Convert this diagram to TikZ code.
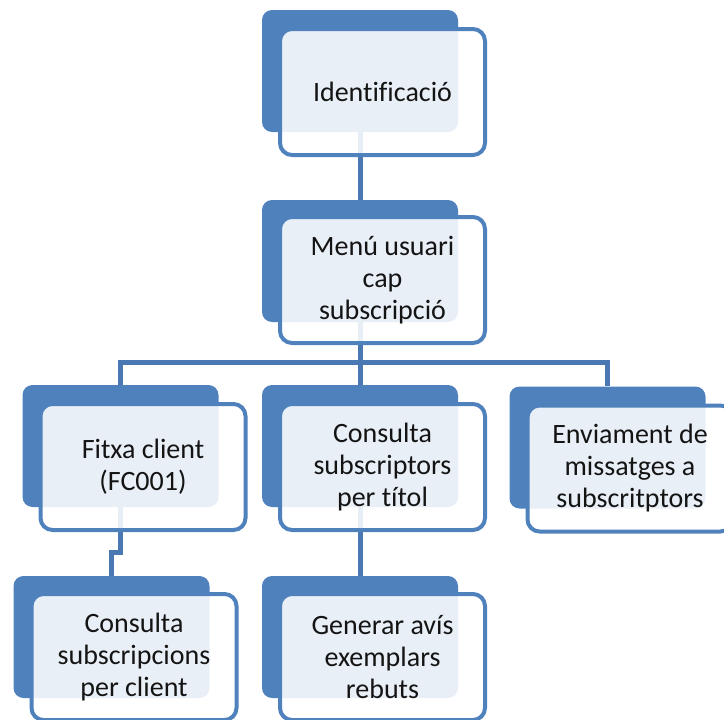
\documentclass[tikz,border=0pt]{standalone}
\usepackage{fontspec}
\setmainfont{Carlito}[Ligatures=NoCommon]
\usepackage{xcolor}
\usepackage{tikz}

\definecolor{boxblue}{HTML}{4F81BD}
\definecolor{linkblue}{HTML}{4A78B2}
\definecolor{txtgray}{HTML}{141414}

\begin{document}
\begin{tikzpicture}[
  x=1pt, y=-1pt,
  font=\fontsize{28}{32}\selectfont,
  back/.style={fill=boxblue, rounded corners=10pt, minimum width=196pt, minimum height=122pt, inner sep=0pt},
  front/.style={draw=boxblue, line width=4pt, fill=white, fill opacity=0.88, text opacity=1, text=txtgray,
                rounded corners=12pt, align=center, minimum width=205pt, minimum height=126pt, inner sep=0pt},
  link/.style={draw=linkblue, line width=5pt},
]
\clip (0,0) rectangle (724,720);
% back plates
\node[back] (ident) at (360,71) {};
\node[back] (menu) at (360,261) {};
\node[back] (fitxa) at (120.5,446) {};
\node[back] (consS) at (360,446) {};
\node[back] (envia) at (607.5,447.5) {};
\node[back] (consC) at (111.5,637) {};
\node[back] (gener) at (360,637) {};
% connectors
\coordinate (bus) at (360,362);
\draw[link] (ident.south) -- (menu.north);
\draw[link] (menu.south) -- (bus) -- (consS.north);
\draw[link] (fitxa.north) |- (bus) -| (envia.north);
\draw[link] (fitxa.south) -- ++(0,45) -| (consC.north);
\draw[link] (consS.south) -- (gener.north);
% text cards
\node[front] (identT) at ([shift={(22.5,21)}]ident.center) {Identificació};
\node[front] (menuT) at ([shift={(22.5,19)}]menu.center) {Menú usuari\\cap\\subscripció};
\node[front] (fitxaT) at ([shift={(22.5,21)}]fitxa.center) {Fitxa client\\(FC001)};
\node[front] (consST) at ([shift={(22.5,21)}]consS.center) {Consulta\\subscriptors\\per títol};
\node[front] (enviaT) at ([shift={(22.5,21)}]envia.center) {Enviament de\\missatges a\\subscritptors};
\node[front] (consCT) at ([shift={(22.5,20)}]consC.center) {Consulta\\subscripcions\\per client};
\node[front] (generT) at ([shift={(22.5,20)}]gener.center) {Generar avís\\exemplars\\rebuts};
\end{tikzpicture}
\end{document}
